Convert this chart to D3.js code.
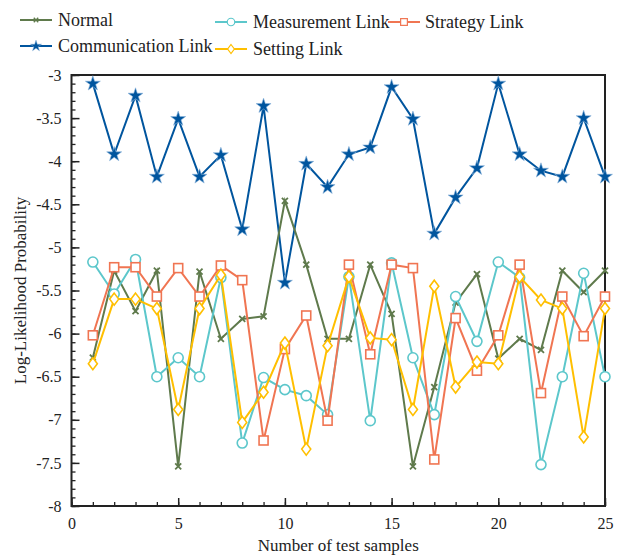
<!DOCTYPE html>
<html>
<head>
<meta charset="utf-8">
<script src="https://cdn.jsdelivr.net/npm/d3@7"></script>
<style>
  body { margin: 0; background: #fff; }
</style>
</head>
<body>
<div id="chart"></div>
<script>
// sample numbers on the x axis
var samples = d3.range(1, 26);
var xTicks = [0, 5, 10, 15, 20, 25];
var yTicks = [-3, -3.5, -4, -4.5, -5, -5.5, -6, -6.5, -7, -7.5, -8];

var normal = [-6.28, -5.27, -5.74, -5.27, -7.54, -5.28, -6.06, -5.83, -5.80, -4.46,
  -5.20, -6.06, -6.06, -5.20, -5.77, -7.54, -6.62, -5.64, -5.31, -6.29,
  -6.06, -6.19, -5.27, -5.52, -5.27];
var communication = [-3.10, -3.92, -3.24, -4.18, -3.51, -4.18, -3.93, -4.79, -3.36, -5.41,
  -4.03, -4.30, -3.92, -3.84, -3.14, -3.51, -4.84, -4.42, -4.08, -3.10,
  -3.92, -4.11, -4.18, -3.50, -4.18];
var measurement = [-5.17, -5.54, -5.14, -6.50, -6.28, -6.50, -5.35, -7.27, -6.51, -6.65,
  -6.72, -6.94, -5.34, -7.01, -5.18, -6.28, -6.94, -5.57, -6.09, -5.17,
  -5.35, -7.52, -6.50, -5.30, -6.50];
var strategy = [-6.02, -5.23, -5.23, -5.57, -5.24, -5.57, -5.21, -5.38, -7.24, -6.18,
  -5.79, -7.01, -5.20, -6.24, -5.20, -5.24, -7.46, -5.82, -6.43, -6.02,
  -5.20, -6.69, -5.57, -6.03, -5.57];
var setting = [-6.35, -5.60, -5.60, -5.71, -6.88, -5.71, -5.32, -7.03, -6.68, -6.11,
  -7.34, -6.14, -5.34, -6.05, -6.07, -6.88, -5.45, -6.62, -6.33, -6.35,
  -5.34, -5.61, -5.71, -7.20, -5.71];

var series = [
  { key: "Normal", values: normal, color: "#5f7a4c", marker: "x" },
  { key: "Communication Link", values: communication, color: "#00559e", marker: "star" },
  { key: "Measurement Link", values: measurement, color: "#5cc7cb", marker: "circle" },
  { key: "Strategy Link", values: strategy, color: "#f07552", marker: "square" },
  { key: "Setting Link", values: setting, color: "#ffbf00", marker: "diamond" }
];

var FONT = "'Liberation Serif', 'Times New Roman', 'DejaVu Serif', serif";

var width = 623, height = 555;
var margin = { left: 71.5, right: 18, top: 75, bottom: 49 };
var w = width - margin.left - margin.right,
    h = height - margin.top - margin.bottom;

var svg = d3.select("#chart").append("svg")
    .attr("width", width)
    .attr("height", height)
    .style("font-family", FONT);
var g = svg.append("g")
    .attr("transform", "translate(" + margin.left + "," + margin.top + ")");

var x = d3.scaleLinear().domain([0, 25]).range([0, w]);
var y = d3.scaleLinear().domain([-8, -3]).range([h, 0]);

// minor ticks first, inward
g.append("g")
    .attr("transform", "translate(0," + h + ")")
    .call(d3.axisBottom(x).tickValues(d3.range(0, 26)).tickSize(-4).tickFormat(""))
    .call(function(a) { a.select(".domain").remove(); a.selectAll("line").attr("stroke", "#222").attr("stroke-width", 1.3); });
g.append("g")
    .call(d3.axisLeft(y).tickValues(d3.range(-80, -29).map(function(d) { return d / 10; })).tickSize(-4).tickFormat(""))
    .call(function(a) { a.select(".domain").remove(); a.selectAll("line").attr("stroke", "#222").attr("stroke-width", 1.3); });

// major ticks with labels
var xAxis = g.append("g")
    .attr("transform", "translate(0," + h + ")")
    .call(d3.axisBottom(x).tickValues(xTicks).tickSize(-8).tickPadding(12).tickFormat(d3.format("d")));
var yAxis = g.append("g")
    .call(d3.axisLeft(y).tickValues(yTicks).tickSize(-8).tickPadding(10).tickFormat(function(d) { return String(d); }));
[xAxis, yAxis].forEach(function(a) {
  a.attr("font-family", null).attr("font-size", null);
  a.select(".domain").remove();
  a.selectAll("line").attr("stroke", "#222").attr("stroke-width", 1.5);
  a.selectAll("text")
    .style("font-family", FONT)
    .style("font-size", "16px")
    .attr("fill", "#222");
});

// frame
g.append("rect")
    .attr("width", w).attr("height", h)
    .attr("fill", "none")
    .attr("stroke", "#222")
    .attr("stroke-width", 2);

// markers
function drawMarker(sel, type, color) {
  if (type === "circle") {
    sel.append("circle").attr("r", 5).attr("fill", "#fff").attr("stroke", color).attr("stroke-width", 1.6);
  } else if (type === "square") {
    sel.append("rect").attr("x", -4.5).attr("y", -4.5).attr("width", 9).attr("height", 9)
      .attr("fill", "#fff").attr("stroke", color).attr("stroke-width", 1.6);
  } else if (type === "diamond") {
    sel.append("path").attr("d", "M0,-6L4.5,0L0,6L-4.5,0Z")
      .attr("fill", "#fff").attr("stroke", color).attr("stroke-width", 1.6);
  } else if (type === "star") {
    sel.append("path").attr("d", d3.symbol().type(d3.symbolStar).size(70)())
      .attr("fill", color).attr("stroke", "#8fb7dd").attr("stroke-width", 0.6);
  } else if (type === "x") {
    sel.append("path").attr("d", "M-3,-3L3,3M-3,3L3,-3")
      .attr("stroke", color).attr("stroke-width", 1.8);
  }
}

var line = d3.line()
    .x(function(d, i) { return x(samples[i]); })
    .y(function(d) { return y(d); });

var order = [1, 0, 2, 3, 4];
order.forEach(function(k) {
  var s = series[k];
  var layer = g.append("g");
  layer.append("path")
    .attr("d", line(s.values))
    .attr("fill", "none")
    .attr("stroke", s.color)
    .attr("stroke-width", 2);
  layer.selectAll(".pt").data(s.values).enter().append("g")
    .attr("transform", function(d, i) { return "translate(" + x(samples[i]) + "," + y(d) + ")"; })
    .each(function() { drawMarker(d3.select(this), s.marker, s.color); });
});

// legend
var legendPos = [
  { x: 20, y: 20 },   // Normal
  { x: 20, y: 46 },   // Communication
  { x: 215, y: 22 },  // Measurement
  { x: 388, y: 22 },  // Strategy
  { x: 215, y: 49 }   // Setting
];
series.forEach(function(s, i) {
  var p = legendPos[i];
  var item = svg.append("g").attr("transform", "translate(" + p.x + "," + p.y + ")");
  item.append("line").attr("x1", 0).attr("x2", 32).attr("stroke", s.color).attr("stroke-width", 2);
  var m = item.append("g");
  drawMarker(m, s.marker, s.color);
  m.attr("transform", "translate(16,0) scale(0.75)");
  item.append("text").attr("x", i === 3 ? 37 : 38).attr("y", 6)
    .style("font-family", FONT).style("font-size", "18px").attr("fill", "#222").text(s.key);
});

// axis titles
svg.append("text")
    .attr("x", margin.left + w / 2).attr("y", 551)
    .attr("text-anchor", "middle")
    .style("font-family", FONT).style("font-size", "17px").attr("fill", "#222")
    .text("Number of test samples");
svg.append("text")
    .attr("transform", "translate(26," + (margin.top + h / 2) + ") rotate(-90)")
    .attr("text-anchor", "middle")
    .style("font-family", FONT).style("font-size", "17px").attr("fill", "#222")
    .text("Log-Likelihood Probability");
</script>
</body>
</html>
